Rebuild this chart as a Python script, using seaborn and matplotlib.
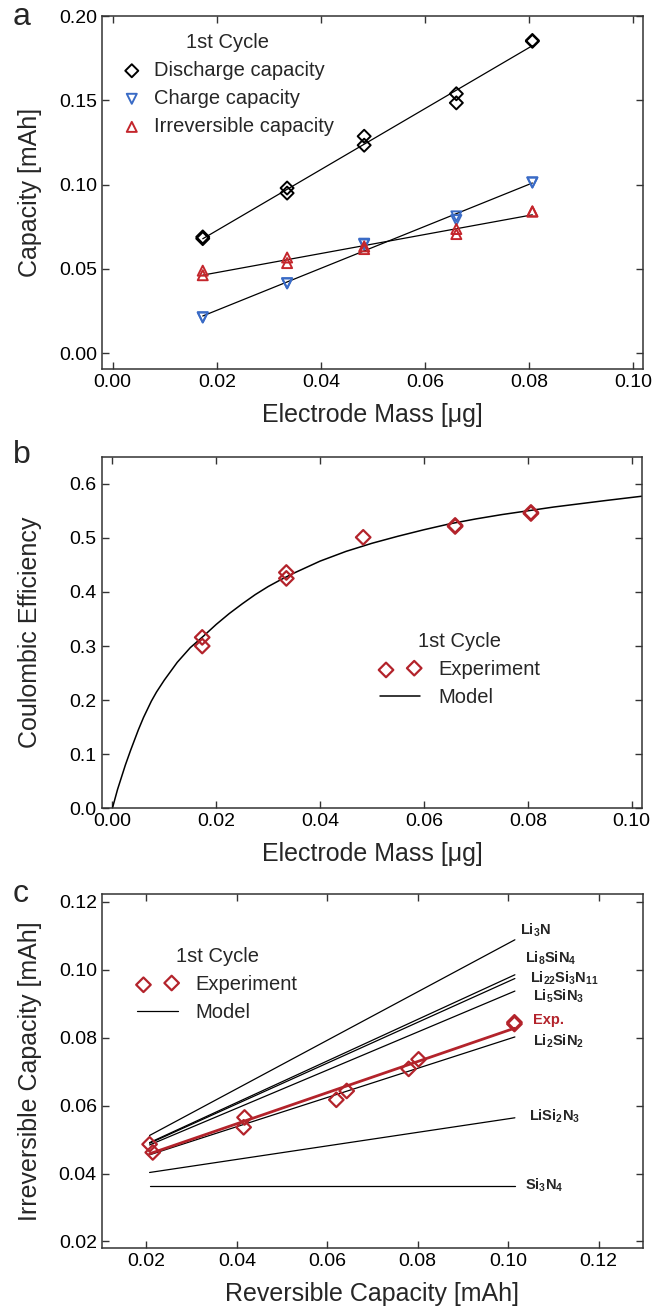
import numpy as np
import pandas as pd
import matplotlib
matplotlib.use("Agg")
import matplotlib.pyplot as plt
import seaborn as sns
from matplotlib.ticker import MultipleLocator, FormatStrFormatter

# ---- panel a: capacity vs electrode mass (1st cycle)
mass_a = [0.0173, 0.0173, 0.0335, 0.0335, 0.0483, 0.0483, 0.0660, 0.0660, 0.0806, 0.0806]
discharge = [0.0690, 0.0680, 0.0980, 0.0950, 0.1287, 0.1234, 0.1539, 0.1485, 0.1855, 0.1850]
charge = [0.0214, 0.0212, 0.0416, 0.0414, 0.0650, 0.0645, 0.0812, 0.0790, 0.1014, 0.1012]
irreversible = [0.0490, 0.0463, 0.0568, 0.0535, 0.0634, 0.0618, 0.0737, 0.0707, 0.0842, 0.0840]

# ---- panel b: coulombic efficiency
mass_b = [0.0173, 0.0173, 0.0335, 0.0335, 0.0483, 0.0660, 0.0660, 0.0806, 0.0806]
ce_exp = [0.316, 0.300, 0.436, 0.425, 0.501, 0.523, 0.521, 0.547, 0.545]
model_mass = [0.0, 0.001, 0.0025, 0.0035, 0.005, 0.006, 0.0075, 0.0085, 0.010, 0.0125,
              0.015, 0.0175, 0.020, 0.0225, 0.025, 0.0275, 0.030, 0.0325, 0.035, 0.0375,
              0.040, 0.045, 0.050, 0.055, 0.060, 0.065, 0.070, 0.075, 0.080, 0.085,
              0.090, 0.095, 0.102]
model_ce = [0.0, 0.035, 0.080, 0.107, 0.145, 0.168, 0.198, 0.215, 0.237, 0.270,
            0.297, 0.318, 0.340, 0.360, 0.378, 0.395, 0.410, 0.423, 0.435, 0.446,
            0.457, 0.475, 0.490, 0.503, 0.515, 0.526, 0.535, 0.543, 0.550, 0.557,
            0.563, 0.569, 0.577]

# ---- panel c: irreversible vs reversible capacity
rev_exp = [0.0207, 0.0214, 0.0417, 0.0415, 0.0620, 0.0643, 0.0780, 0.0802, 0.1014, 0.1014]
irr_exp = [0.0486, 0.0462, 0.0565, 0.0536, 0.0617, 0.0643, 0.0708, 0.0736, 0.0845, 0.0840]
materials = [r"Li$_3$N", r"Li$_8$SiN$_4$", r"Li$_{22}$Si$_3$N$_{11}$", r"Li$_5$SiN$_3$",
             r"Li$_2$SiN$_2$", r"LiSi$_2$N$_3$", r"Si$_3$N$_4$"]
rev_range = [0.0207, 0.1015]
irr_start = [0.0512, 0.0491, 0.0489, 0.0484, 0.0455, 0.0403, 0.0363]
irr_end = [0.1088, 0.0985, 0.0974, 0.0937, 0.0802, 0.0564, 0.0363]
label_x = [0.1027, 0.1037, 0.1048, 0.1056, 0.1056, 0.1047, 0.1037]
label_y = [0.1117, 0.1034, 0.0976, 0.0921, 0.0788, 0.0568, 0.0364]

BLUE = "#3a6bc6"
RED_A = "#c4262c"
RED = "#b3232b"

sns.set_theme(style="ticks")
plt.rcParams.update({
    "font.family": ["Liberation Sans", "DejaVu Sans"],
    "xtick.direction": "in", "ytick.direction": "in",
    "xtick.top": True, "ytick.right": True,
    "xtick.major.size": 5, "ytick.major.size": 5,
    "xtick.major.width": 1.0, "ytick.major.width": 1.0,
    "xtick.color": "#333333", "ytick.color": "#333333",
    "xtick.labelcolor": "black", "ytick.labelcolor": "black",
    "xtick.labelsize": 14, "ytick.labelsize": 14,
    "axes.linewidth": 1.1, "axes.edgecolor": "#333333",
    "axes.labelsize": 18,
    "mathtext.fontset": "custom",
    "mathtext.rm": "Liberation Sans",
    "mathtext.bf": "Liberation Sans:bold",
    "mathtext.default": "bf",
})

fig = plt.figure(figsize=(6.68, 13.12), dpi=100)
ax_a = fig.add_axes([0.1522, 0.7185, 0.8108, 0.2693])
ax_b = fig.add_axes([0.1522, 0.3839, 0.8090, 0.2680])
ax_c = fig.add_axes([0.1522, 0.0486, 0.8108, 0.2698])

leg_kw = dict(frameon=False, fontsize=14.5, title_fontsize=14.5,
              borderpad=0, borderaxespad=0, loc="upper left")

# ---------------- a
series_a = [("Discharge capacity", discharge, "D", "black", 44),
            ("Charge capacity", charge, "v", BLUE, 52),
            ("Irreversible capacity", irreversible, "^", RED_A, 52)]
for name, vals, mk, col, size in series_a:
    sns.regplot(x=mass_a, y=vals, scatter=False, ci=None, color="black",
                line_kws={"lw": 0.9}, ax=ax_a)
    sns.scatterplot(x=mass_a, y=vals, marker=mk, s=size, facecolor="none",
                    edgecolor=col, linewidth=1.4, label=name, ax=ax_a, zorder=3)
ax_a.set_xlim(-0.00211, 0.1019)
ax_a.set_ylim(-0.0095, 0.2)
ax_a.xaxis.set_major_locator(MultipleLocator(0.02))
ax_a.yaxis.set_major_locator(MultipleLocator(0.05))
ax_a.xaxis.set_major_formatter(FormatStrFormatter("%.2f"))
ax_a.yaxis.set_major_formatter(FormatStrFormatter("%.2f"))
ax_a.set_xlabel("Electrode Mass [μg]")
ax_a.set_ylabel("Capacity [mAh]")
ax_a.legend(title="1st Cycle", bbox_to_anchor=(0.037, 0.952), handlelength=1.0,
            handletextpad=0.6, labelspacing=0.45, scatterpoints=1, **leg_kw)

# ---------------- b
sns.lineplot(x=model_mass, y=model_ce, color="black", lw=1.1, label="Model", ax=ax_b)
sns.scatterplot(x=mass_b, y=ce_exp, marker="D", s=55, facecolor="none",
                edgecolor=RED, linewidth=1.6, label="Experiment", ax=ax_b, zorder=3)
ax_b.set_xlim(-0.00206, 0.102)
ax_b.set_ylim(0, 0.65)
ax_b.xaxis.set_major_locator(MultipleLocator(0.02))
ax_b.yaxis.set_major_locator(MultipleLocator(0.1))
ax_b.xaxis.set_major_formatter(FormatStrFormatter("%.2f"))
ax_b.yaxis.set_major_formatter(FormatStrFormatter("%.1f"))
ax_b.set_xlabel("Electrode Mass [μg]")
ax_b.set_ylabel("Coulombic Efficiency")
h, l = ax_b.get_legend_handles_labels()
order = [l.index("Experiment"), l.index("Model")]
ax_b.legend([h[i] for i in order], [l[i] for i in order], title="1st Cycle",
            bbox_to_anchor=(0.515, 0.501), handlelength=2.0, handletextpad=0.88,
            labelspacing=0.45, scatterpoints=2, **leg_kw)

# ---------------- c
for i, mat in enumerate(materials):
    sns.lineplot(x=rev_range, y=[irr_start[i], irr_end[i]], color="black", lw=0.9,
                 label="Model" if i == 0 else None, legend=False, ax=ax_c)
sns.regplot(x=rev_exp, y=irr_exp, scatter=False, ci=None, color=RED,
            line_kws={"lw": 2.0}, ax=ax_c)
sns.scatterplot(x=rev_exp, y=irr_exp, marker="D", s=55, facecolor="none",
                edgecolor=RED, linewidth=1.6, label="Experiment", ax=ax_c, zorder=3)
for i, mat in enumerate(materials):
    ax_c.text(label_x[i], label_y[i], mat, fontsize=10.5, fontweight="bold",
              va="center", ha="left")
ax_c.text(0.1056, 0.0852, "Exp.", fontsize=10.5, fontweight="bold", color=RED,
          va="center", ha="left")
ax_c.set_xlim(0.0101, 0.1299)
ax_c.set_ylim(0.018, 0.1222)
ax_c.xaxis.set_major_locator(MultipleLocator(0.02))
ax_c.yaxis.set_major_locator(MultipleLocator(0.02))
ax_c.xaxis.set_major_formatter(FormatStrFormatter("%.2f"))
ax_c.yaxis.set_major_formatter(FormatStrFormatter("%.2f"))
ax_c.set_xlabel("Reversible Capacity [mAh]")
ax_c.set_ylabel("Irreversible Capacity [mAh]")
h, l = ax_c.get_legend_handles_labels()
order = [l.index("Experiment"), l.index("Model")]
ax_c.legend([h[i] for i in order], [l[i] for i in order], title="1st Cycle",
            bbox_to_anchor=(0.066, 0.851), handlelength=2.0, handletextpad=0.88,
            labelspacing=0.45, scatterpoints=2, **leg_kw)

for ax in (ax_a, ax_b, ax_c):
    ax.yaxis.set_label_coords(-0.11, 0.5)
    ax.xaxis.set_label_coords(0.5, -0.095)
    ax.tick_params(which="major", pad=3.5)

fig.text(13 / 668, 1 - 25 / 1312, "a", fontsize=23, va="baseline", ha="left")
fig.text(13 / 668, 1 - 463 / 1312, "b", fontsize=23, va="baseline", ha="left")
fig.text(13 / 668, 1 - 902 / 1312, "c", fontsize=23, va="baseline", ha="left")

fig.savefig("out.png", dpi=100)
